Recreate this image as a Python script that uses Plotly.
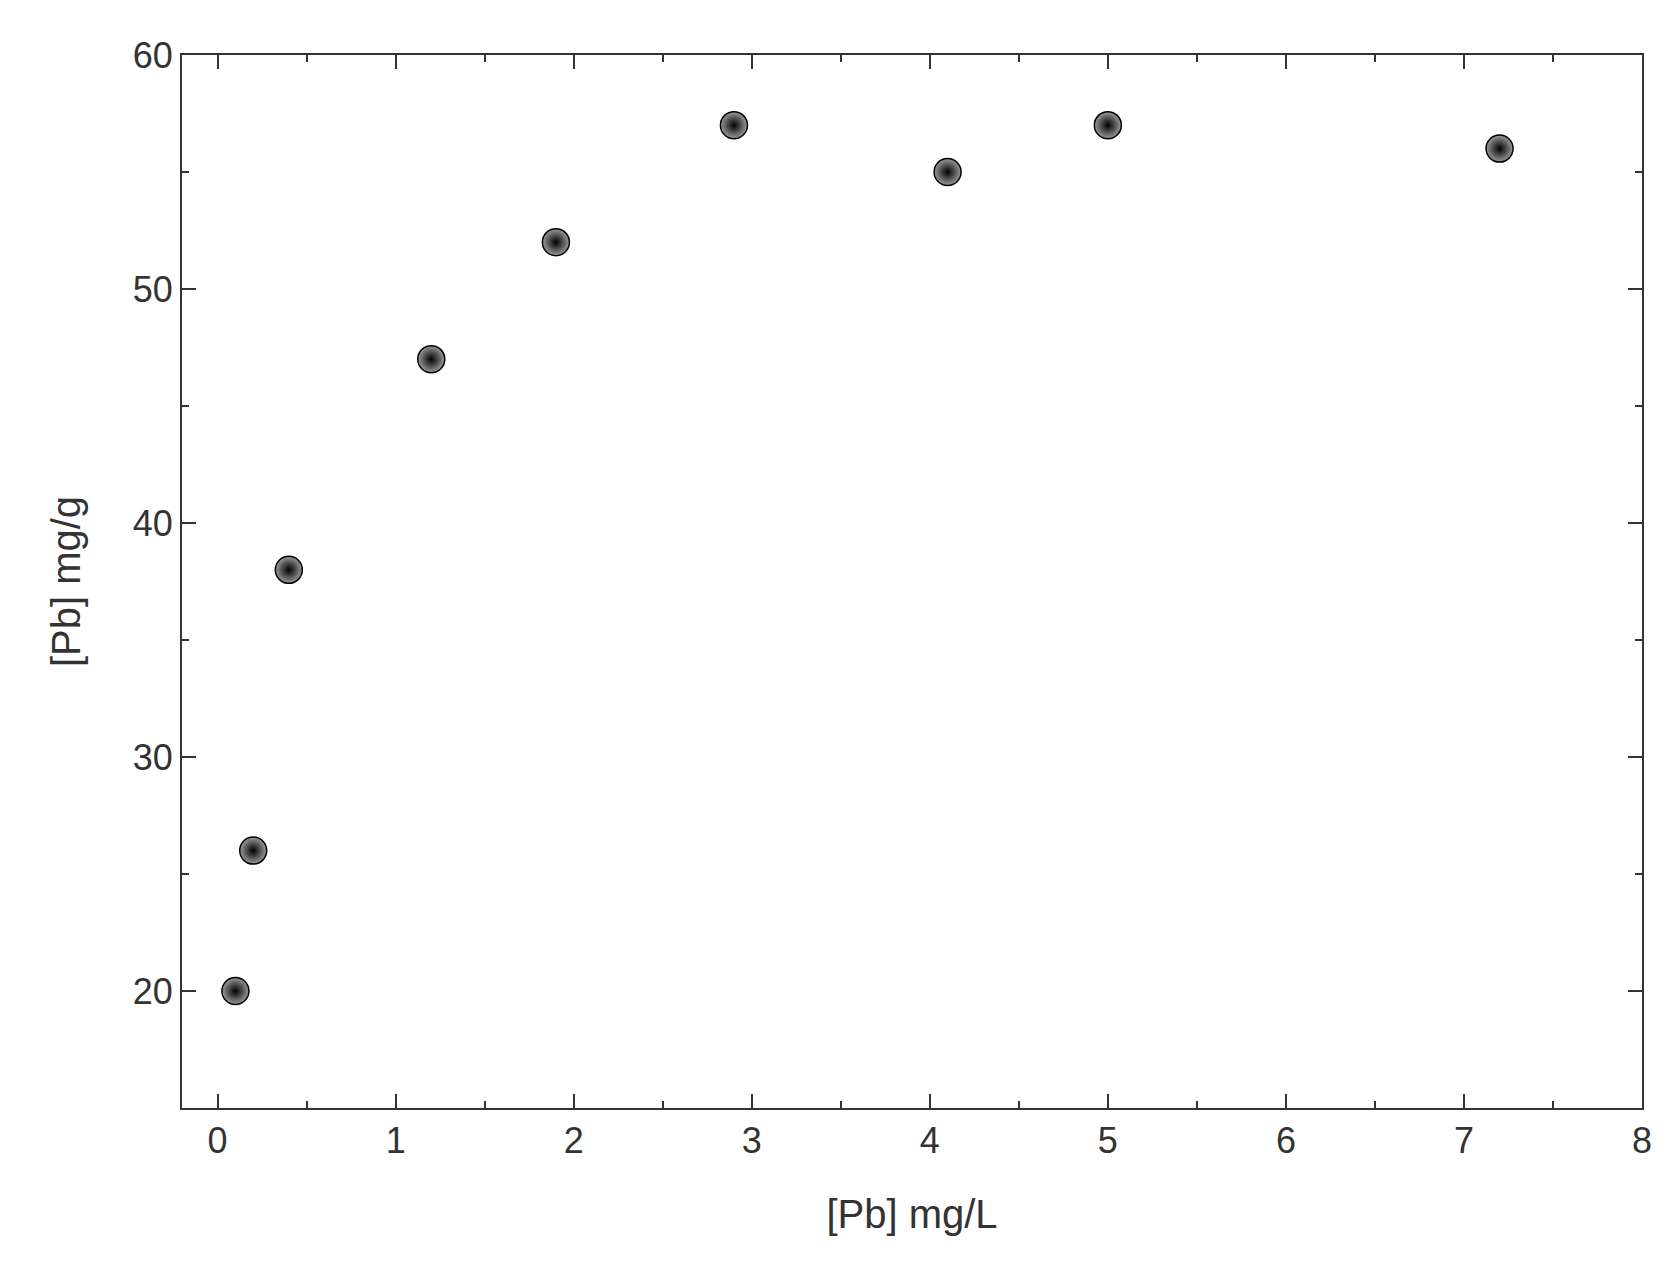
import plotly.graph_objects as go

x_vals = [0.1, 0.2, 0.4, 1.2, 1.9, 2.9, 4.1, 5.0, 7.2]
y_vals = [20, 26, 38, 47, 52, 57, 55, 57, 56]

fig = go.Figure(go.Scatter(
    x=x_vals, y=y_vals, mode="markers",
    marker=dict(size=27, color="#9a9a9a", line=dict(width=1.5, color="black"),
                gradient=dict(type="radial", color="black")),
))
axis = dict(showline=True, linecolor="#333", linewidth=2, mirror="ticks",
            ticks="inside", ticklen=14, tickwidth=2, tickcolor="#333",
            showgrid=False, zeroline=False,
            tickfont=dict(family="Liberation Sans, Arial", size=36, color="#333"),
            title_font=dict(family="Liberation Sans, Arial", size=40, color="#333"))
fig.update_xaxes(**axis, range=[-0.2, 8], dtick=1, title_text="[Pb] mg/L", title_standoff=40,
                 minor=dict(dtick=0.5, ticks="inside", ticklen=7, tickwidth=2, tickcolor="#333"))
fig.update_yaxes(**axis, range=[15, 60], dtick=10, title_text="[Pb] mg/g", title_standoff=40,
                 minor=dict(dtick=5, ticks="inside", ticklen=7, tickwidth=2, tickcolor="#333"))
fig.update_layout(width=1666, height=1280, plot_bgcolor="white", paper_bgcolor="white",
                  margin=dict(l=174, r=32, t=47, b=180), showlegend=False)
fig.write_html("out.html")
